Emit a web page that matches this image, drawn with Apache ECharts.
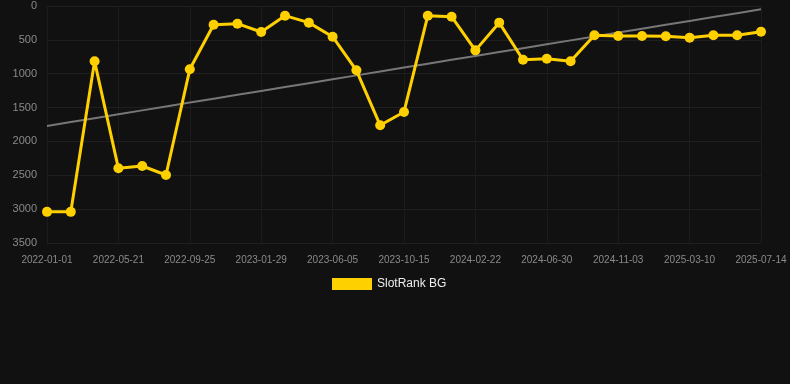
<!DOCTYPE html>
<html>
<head>
<meta charset="utf-8">
<script src="https://cdn.jsdelivr.net/npm/echarts@6/dist/echarts.min.js"></script>
<style>
  html, body { margin: 0; padding: 0; background: #111111; }
  #chart { width: 790px; height: 384px; }
</style>
</head>
<body>
<div id="chart"></div>
<script>
// 日期（只显示每隔 3 个的标签）
const dates = [
  '2022-01-01', '2022-02-14', '2022-04-02', '2022-05-21', '2022-07-01', '2022-08-13',
  '2022-09-25', '2022-11-05', '2022-12-18', '2023-01-29', '2023-03-12', '2023-04-23',
  '2023-06-05', '2023-07-17', '2023-08-31', '2023-10-15', '2023-11-27', '2024-01-09',
  '2024-02-22', '2024-04-05', '2024-05-18', '2024-06-30', '2024-08-11', '2024-09-22',
  '2024-11-03', '2024-12-15', '2025-01-27', '2025-03-10', '2025-04-21', '2025-06-02',
  '2025-07-14'
]

// SlotRank BG 排名
const rankValues = [
  3040, 3040, 817, 2397, 2363, 2496,
  935, 276, 261, 384, 143, 246,
  453, 950, 1762, 1565, 143, 158,
  655, 246, 793, 778, 817, 433,
  443, 443, 448, 468, 433, 433,
  379
]

// 线性回归趋势线
function trendLine(values) {
  const n = values.length
  let sx = 0, sy = 0, sxy = 0, sxx = 0
  values.forEach((v, i) => { sx += i; sy += v; sxy += i * v; sxx += i * i })
  const slope = (n * sxy - sx * sy) / (n * sxx - sx * sx)
  const icpt = (sy - slope * sx) / n
  return values.map((_, i) => icpt + slope * i)
}

const font = 'Arial, Liberation Sans, sans-serif'

const chart = echarts.init(document.getElementById('chart'))
chart.setOption({
  backgroundColor: '#111111',
  animation: false,
  grid: { left: 47, right: 29, top: 6, bottom: 141 },
  legend: {
    data: ['SlotRank BG'],
    top: 273,
    left: 327,
    itemWidth: 40,
    itemHeight: 12,
    icon: 'rect',
    textStyle: { color: '#eeeeee', fontSize: 12, fontFamily: font }
  },
  xAxis: {
    type: 'category',
    data: dates,
    boundaryGap: false,
    axisLine: { show: false },
    axisTick: { show: false },
    axisLabel: { interval: 2, color: '#8a8a8a', fontSize: 10, margin: 12, fontFamily: font },
    splitLine: { show: true, interval: 2, lineStyle: { color: '#1c1c1c' } }
  },
  yAxis: {
    type: 'value',
    inverse: true,
    min: 0,
    max: 3500,
    interval: 500,
    axisLine: { show: false },
    axisTick: { show: false },
    axisLabel: {
      color: '#8a8a8a',
      fontSize: 11,
      margin: 10,
      fontFamily: font,
      formatter: v => String(v)
    },
    splitLine: { lineStyle: { color: '#1f1f1f' } }
  },
  series: [
    {
      name: 'trend',
      type: 'line',
      data: trendLine(rankValues),
      symbol: 'none',
      lineStyle: { color: '#777777', width: 2 },
      z: 1
    },
    {
      name: 'SlotRank BG',
      type: 'line',
      data: rankValues,
      symbol: 'circle',
      symbolSize: 10,
      itemStyle: { color: '#ffd000' },
      lineStyle: { color: '#ffd000', width: 3 },
      z: 2
    }
  ]
})
</script>
</body>
</html>
